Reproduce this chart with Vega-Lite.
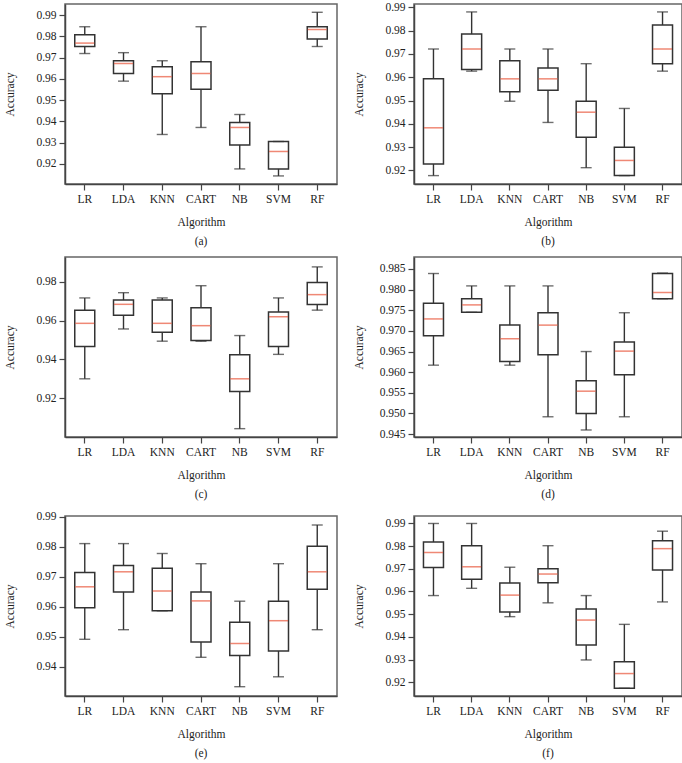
{
"$schema": "https://vega.github.io/schema/vega-lite/v6.json",
"padding": {"left": 3, "top": 0, "right": 5, "bottom": 0},
"background": "white",
"datasets": {
"a": [
{"alg":"LR","min":0.9719,"q1":0.9752,"med":0.9768,"q3":0.9807,"max":0.9845},
{"alg":"LDA","min":0.9589,"q1":0.9625,"med":0.9672,"q3":0.9685,"max":0.9723},
{"alg":"KNN","min":0.9338,"q1":0.953,"med":0.961,"q3":0.9657,"max":0.9685},
{"alg":"CART","min":0.9371,"q1":0.9551,"med":0.9625,"q3":0.968,"max":0.9845},
{"alg":"NB","min":0.9176,"q1":0.9289,"med":0.9371,"q3":0.9394,"max":0.9432},
{"alg":"SVM","min":0.9143,"q1":0.9176,"med":0.9258,"q3":0.9305,"max":0.9305},
{"alg":"RF","min":0.9752,"q1":0.9787,"med":0.9832,"q3":0.9845,"max":0.9913}
],
"b": [
{"alg":"LR","min":0.9178,"q1":0.9228,"med":0.9383,"q3":0.9593,"max":0.9721},
{"alg":"LDA","min":0.9626,"q1":0.9633,"med":0.9721,"q3":0.9785,"max":0.988},
{"alg":"KNN","min":0.9497,"q1":0.9538,"med":0.9593,"q3":0.9671,"max":0.9721},
{"alg":"CART","min":0.9406,"q1":0.9544,"med":0.9593,"q3":0.9639,"max":0.9721},
{"alg":"NB","min":0.9212,"q1":0.9343,"med":0.945,"q3":0.9497,"max":0.9658},
{"alg":"SVM","min":0.9178,"q1":0.9178,"med":0.9243,"q3":0.93,"max":0.9466},
{"alg":"RF","min":0.9626,"q1":0.9658,"med":0.9721,"q3":0.9824,"max":0.988}
],
"c": [
{"alg":"LR","min":0.93,"q1":0.9467,"med":0.9586,"q3":0.9654,"max":0.9717},
{"alg":"LDA","min":0.9557,"q1":0.9628,"med":0.9684,"q3":0.9706,"max":0.9744},
{"alg":"KNN","min":0.9494,"q1":0.954,"med":0.9586,"q3":0.9706,"max":0.9717},
{"alg":"CART","min":0.9494,"q1":0.9497,"med":0.9574,"q3":0.9666,"max":0.978},
{"alg":"NB","min":0.9043,"q1":0.9235,"med":0.93,"q3":0.9424,"max":0.9523},
{"alg":"SVM","min":0.9426,"q1":0.9467,"med":0.962,"q3":0.9645,"max":0.9717},
{"alg":"RF","min":0.9654,"q1":0.9683,"med":0.9734,"q3":0.9797,"max":0.9877}
],
"d": [
{"alg":"LR","min":0.9617,"q1":0.9688,"med":0.9729,"q3":0.9767,"max":0.9839},
{"alg":"LDA","min":0.9745,"q1":0.9745,"med":0.9763,"q3":0.9778,"max":0.9809},
{"alg":"KNN","min":0.9617,"q1":0.9626,"med":0.9681,"q3":0.9714,"max":0.9809},
{"alg":"CART","min":0.9492,"q1":0.9642,"med":0.9714,"q3":0.9744,"max":0.9809},
{"alg":"NB","min":0.946,"q1":0.95,"med":0.9554,"q3":0.9579,"max":0.965},
{"alg":"SVM","min":0.9492,"q1":0.9594,"med":0.9651,"q3":0.9673,"max":0.9744},
{"alg":"RF","min":0.9778,"q1":0.9778,"med":0.9793,"q3":0.9839,"max":0.984}
],
"e": [
{"alg":"LR","min":0.9491,"q1":0.9596,"med":0.9666,"q3":0.9714,"max":0.981},
{"alg":"LDA","min":0.9523,"q1":0.9649,"med":0.9716,"q3":0.9737,"max":0.981},
{"alg":"KNN","min":0.9586,"q1":0.9586,"med":0.9652,"q3":0.9728,"max":0.9777},
{"alg":"CART","min":0.9431,"q1":0.9482,"med":0.9619,"q3":0.9649,"max":0.9743},
{"alg":"NB","min":0.9333,"q1":0.9437,"med":0.9477,"q3":0.9548,"max":0.9618},
{"alg":"SVM","min":0.9366,"q1":0.9452,"med":0.9553,"q3":0.9618,"max":0.9743},
{"alg":"RF","min":0.9523,"q1":0.9658,"med":0.9716,"q3":0.9801,"max":0.9872}
],
"f": [
{"alg":"LR","min":0.9582,"q1":0.9706,"med":0.9772,"q3":0.9818,"max":0.99},
{"alg":"LDA","min":0.9614,"q1":0.9654,"med":0.9709,"q3":0.9802,"max":0.99},
{"alg":"KNN","min":0.9489,"q1":0.951,"med":0.9584,"q3":0.9637,"max":0.9707},
{"alg":"CART","min":0.955,"q1":0.9639,"med":0.9677,"q3":0.97,"max":0.9802},
{"alg":"NB","min":0.9298,"q1":0.9364,"med":0.9474,"q3":0.9523,"max":0.9582},
{"alg":"SVM","min":0.9173,"q1":0.9173,"med":0.9238,"q3":0.929,"max":0.9455},
{"alg":"RF","min":0.9554,"q1":0.9695,"med":0.9789,"q3":0.9824,"max":0.9866}
]
},
"vconcat": [
{"hconcat": [
{"width": 272, "height": 180, "title": "(a)", "data": {"name": "a"},
 "encoding": {"x": {"field": "alg", "type": "nominal", "sort": null, "scale": {"paddingInner": 0.5, "paddingOuter": 0.26}, "axis": {"title": "Algorithm"}}},
 "layer": [
  {"mark": {"type": "rule", "stroke": "#333", "strokeWidth": 1.4}, "encoding": {"y": {"field": "min", "type": "quantitative", "scale": {"domain": [0.9105, 0.9952], "zero": false, "nice": false}, "axis": {"title": "Accuracy", "values": [0.92,0.93,0.94,0.95,0.96,0.97,0.98,0.99], "format": ".2f"}}, "y2": {"field": "max"}}},
  {"mark": {"type": "bar", "size": 20, "fill": "white", "stroke": "#333", "strokeWidth": 1.5}, "encoding": {"y": {"field": "q1", "type": "quantitative", "axis": {"title": "Accuracy", "values": [0.92,0.93,0.94,0.95,0.96,0.97,0.98,0.99], "format": ".2f"}}, "y2": {"field": "q3"}}},
  {"mark": {"type": "tick", "size": 11, "thickness": 1.4, "color": "#333"}, "encoding": {"y": {"field": "min", "type": "quantitative", "axis": {"title": "Accuracy", "values": [0.92,0.93,0.94,0.95,0.96,0.97,0.98,0.99], "format": ".2f"}}}},
  {"mark": {"type": "tick", "size": 11, "thickness": 1.4, "color": "#333"}, "encoding": {"y": {"field": "max", "type": "quantitative", "axis": {"title": "Accuracy", "values": [0.92,0.93,0.94,0.95,0.96,0.97,0.98,0.99], "format": ".2f"}}}},
  {"mark": {"type": "tick", "size": 19, "thickness": 1.5, "color": "#e8553a"}, "encoding": {"y": {"field": "med", "type": "quantitative", "axis": {"title": "Accuracy", "values": [0.92,0.93,0.94,0.95,0.96,0.97,0.98,0.99], "format": ".2f"}}}}
 ]},
{"width": 268, "height": 180, "title": "(b)", "data": {"name": "b"},
 "encoding": {"x": {"field": "alg", "type": "nominal", "sort": null, "scale": {"paddingInner": 0.5, "paddingOuter": 0.26}, "axis": {"title": "Algorithm"}}},
 "layer": [
  {"mark": {"type": "rule", "stroke": "#333", "strokeWidth": 1.4}, "encoding": {"y": {"field": "min", "type": "quantitative", "scale": {"domain": [0.9142, 0.9914], "zero": false, "nice": false}, "axis": {"title": "Accuracy", "values": [0.92,0.93,0.94,0.95,0.96,0.97,0.98,0.99], "format": ".2f"}}, "y2": {"field": "max"}}},
  {"mark": {"type": "bar", "size": 20, "fill": "white", "stroke": "#333", "strokeWidth": 1.5}, "encoding": {"y": {"field": "q1", "type": "quantitative", "axis": {"title": "Accuracy", "values": [0.92,0.93,0.94,0.95,0.96,0.97,0.98,0.99], "format": ".2f"}}, "y2": {"field": "q3"}}},
  {"mark": {"type": "tick", "size": 11, "thickness": 1.4, "color": "#333"}, "encoding": {"y": {"field": "min", "type": "quantitative", "axis": {"title": "Accuracy", "values": [0.92,0.93,0.94,0.95,0.96,0.97,0.98,0.99], "format": ".2f"}}}},
  {"mark": {"type": "tick", "size": 11, "thickness": 1.4, "color": "#333"}, "encoding": {"y": {"field": "max", "type": "quantitative", "axis": {"title": "Accuracy", "values": [0.92,0.93,0.94,0.95,0.96,0.97,0.98,0.99], "format": ".2f"}}}},
  {"mark": {"type": "tick", "size": 19, "thickness": 1.5, "color": "#e8553a"}, "encoding": {"y": {"field": "med", "type": "quantitative", "axis": {"title": "Accuracy", "values": [0.92,0.93,0.94,0.95,0.96,0.97,0.98,0.99], "format": ".2f"}}}}
 ]}
]},
{"hconcat": [
{"width": 272, "height": 180, "title": "(c)", "data": {"name": "c"},
 "encoding": {"x": {"field": "alg", "type": "nominal", "sort": null, "scale": {"paddingInner": 0.5, "paddingOuter": 0.26}, "axis": {"title": "Algorithm"}}},
 "layer": [
  {"mark": {"type": "rule", "stroke": "#333", "strokeWidth": 1.4}, "encoding": {"y": {"field": "min", "type": "quantitative", "scale": {"domain": [0.9, 0.9928], "zero": false, "nice": false}, "axis": {"title": "Accuracy", "values": [0.92,0.94,0.96,0.98], "format": ".2f"}}, "y2": {"field": "max"}}},
  {"mark": {"type": "bar", "size": 20, "fill": "white", "stroke": "#333", "strokeWidth": 1.5}, "encoding": {"y": {"field": "q1", "type": "quantitative", "axis": {"title": "Accuracy", "values": [0.92,0.94,0.96,0.98], "format": ".2f"}}, "y2": {"field": "q3"}}},
  {"mark": {"type": "tick", "size": 11, "thickness": 1.4, "color": "#333"}, "encoding": {"y": {"field": "min", "type": "quantitative", "axis": {"title": "Accuracy", "values": [0.92,0.94,0.96,0.98], "format": ".2f"}}}},
  {"mark": {"type": "tick", "size": 11, "thickness": 1.4, "color": "#333"}, "encoding": {"y": {"field": "max", "type": "quantitative", "axis": {"title": "Accuracy", "values": [0.92,0.94,0.96,0.98], "format": ".2f"}}}},
  {"mark": {"type": "tick", "size": 19, "thickness": 1.5, "color": "#e8553a"}, "encoding": {"y": {"field": "med", "type": "quantitative", "axis": {"title": "Accuracy", "values": [0.92,0.94,0.96,0.98], "format": ".2f"}}}}
 ]},
{"width": 268, "height": 180, "title": "(d)", "data": {"name": "d"},
 "encoding": {"x": {"field": "alg", "type": "nominal", "sort": null, "scale": {"paddingInner": 0.5, "paddingOuter": 0.26}, "axis": {"title": "Algorithm"}}},
 "layer": [
  {"mark": {"type": "rule", "stroke": "#333", "strokeWidth": 1.4}, "encoding": {"y": {"field": "min", "type": "quantitative", "scale": {"domain": [0.9443, 0.9879], "zero": false, "nice": false}, "axis": {"title": "Accuracy", "values": [0.945,0.95,0.955,0.96,0.965,0.97,0.975,0.98,0.985], "format": ".3f"}}, "y2": {"field": "max"}}},
  {"mark": {"type": "bar", "size": 20, "fill": "white", "stroke": "#333", "strokeWidth": 1.5}, "encoding": {"y": {"field": "q1", "type": "quantitative", "axis": {"title": "Accuracy", "values": [0.945,0.95,0.955,0.96,0.965,0.97,0.975,0.98,0.985], "format": ".3f"}}, "y2": {"field": "q3"}}},
  {"mark": {"type": "tick", "size": 11, "thickness": 1.4, "color": "#333"}, "encoding": {"y": {"field": "min", "type": "quantitative", "axis": {"title": "Accuracy", "values": [0.945,0.95,0.955,0.96,0.965,0.97,0.975,0.98,0.985], "format": ".3f"}}}},
  {"mark": {"type": "tick", "size": 11, "thickness": 1.4, "color": "#333"}, "encoding": {"y": {"field": "max", "type": "quantitative", "axis": {"title": "Accuracy", "values": [0.945,0.95,0.955,0.96,0.965,0.97,0.975,0.98,0.985], "format": ".3f"}}}},
  {"mark": {"type": "tick", "size": 19, "thickness": 1.5, "color": "#e8553a"}, "encoding": {"y": {"field": "med", "type": "quantitative", "axis": {"title": "Accuracy", "values": [0.945,0.95,0.955,0.96,0.965,0.97,0.975,0.98,0.985], "format": ".3f"}}}}
 ]}
]},
{"hconcat": [
{"width": 272, "height": 180, "title": "(e)", "data": {"name": "e"},
 "encoding": {"x": {"field": "alg", "type": "nominal", "sort": null, "scale": {"paddingInner": 0.5, "paddingOuter": 0.26}, "axis": {"title": "Algorithm"}}},
 "layer": [
  {"mark": {"type": "rule", "stroke": "#333", "strokeWidth": 1.4}, "encoding": {"y": {"field": "min", "type": "quantitative", "scale": {"domain": [0.9302, 0.9902], "zero": false, "nice": false}, "axis": {"title": "Accuracy", "values": [0.94,0.95,0.96,0.97,0.98,0.99], "format": ".2f"}}, "y2": {"field": "max"}}},
  {"mark": {"type": "bar", "size": 20, "fill": "white", "stroke": "#333", "strokeWidth": 1.5}, "encoding": {"y": {"field": "q1", "type": "quantitative", "axis": {"title": "Accuracy", "values": [0.94,0.95,0.96,0.97,0.98,0.99], "format": ".2f"}}, "y2": {"field": "q3"}}},
  {"mark": {"type": "tick", "size": 11, "thickness": 1.4, "color": "#333"}, "encoding": {"y": {"field": "min", "type": "quantitative", "axis": {"title": "Accuracy", "values": [0.94,0.95,0.96,0.97,0.98,0.99], "format": ".2f"}}}},
  {"mark": {"type": "tick", "size": 11, "thickness": 1.4, "color": "#333"}, "encoding": {"y": {"field": "max", "type": "quantitative", "axis": {"title": "Accuracy", "values": [0.94,0.95,0.96,0.97,0.98,0.99], "format": ".2f"}}}},
  {"mark": {"type": "tick", "size": 19, "thickness": 1.5, "color": "#e8553a"}, "encoding": {"y": {"field": "med", "type": "quantitative", "axis": {"title": "Accuracy", "values": [0.94,0.95,0.96,0.97,0.98,0.99], "format": ".2f"}}}}
 ]},
{"width": 268, "height": 180, "title": "(f)", "data": {"name": "f"},
 "encoding": {"x": {"field": "alg", "type": "nominal", "sort": null, "scale": {"paddingInner": 0.5, "paddingOuter": 0.26}, "axis": {"title": "Algorithm"}}},
 "layer": [
  {"mark": {"type": "rule", "stroke": "#333", "strokeWidth": 1.4}, "encoding": {"y": {"field": "min", "type": "quantitative", "scale": {"domain": [0.9139, 0.9933], "zero": false, "nice": false}, "axis": {"title": "Accuracy", "values": [0.92,0.93,0.94,0.95,0.96,0.97,0.98,0.99], "format": ".2f"}}, "y2": {"field": "max"}}},
  {"mark": {"type": "bar", "size": 20, "fill": "white", "stroke": "#333", "strokeWidth": 1.5}, "encoding": {"y": {"field": "q1", "type": "quantitative", "axis": {"title": "Accuracy", "values": [0.92,0.93,0.94,0.95,0.96,0.97,0.98,0.99], "format": ".2f"}}, "y2": {"field": "q3"}}},
  {"mark": {"type": "tick", "size": 11, "thickness": 1.4, "color": "#333"}, "encoding": {"y": {"field": "min", "type": "quantitative", "axis": {"title": "Accuracy", "values": [0.92,0.93,0.94,0.95,0.96,0.97,0.98,0.99], "format": ".2f"}}}},
  {"mark": {"type": "tick", "size": 11, "thickness": 1.4, "color": "#333"}, "encoding": {"y": {"field": "max", "type": "quantitative", "axis": {"title": "Accuracy", "values": [0.92,0.93,0.94,0.95,0.96,0.97,0.98,0.99], "format": ".2f"}}}},
  {"mark": {"type": "tick", "size": 19, "thickness": 1.5, "color": "#e8553a"}, "encoding": {"y": {"field": "med", "type": "quantitative", "axis": {"title": "Accuracy", "values": [0.92,0.93,0.94,0.95,0.96,0.97,0.98,0.99], "format": ".2f"}}}}
 ]}
]}
],
"spacing": 7,
"config": {
 "concat": {"spacing": 14},
 "view": {"stroke": "#666", "strokeWidth": 1.5},
 "font": "Liberation Serif",
 "axis": {"labelFont": "Liberation Serif", "titleFont": "Liberation Serif", "labelFontSize": 11.5, "titleFontSize": 11.5, "titleFontWeight": "normal", "labelColor": "#222", "titleColor": "#222", "grid": false, "tickSize": 6, "tickColor": "#444", "domainColor": "#444", "tickWidth": 1.2, "domainWidth": 1.5, "labelOverlap": false},
 "axisX": {"labelAngle": 0, "labelPadding": 3, "titlePadding": 12},
 "axisY": {"titleX": -50, "labelPadding": 3},
 "title": {"font": "Liberation Serif", "fontSize": 11.5, "fontWeight": "normal", "color": "#222", "orient": "bottom", "offset": 8}
}
}
